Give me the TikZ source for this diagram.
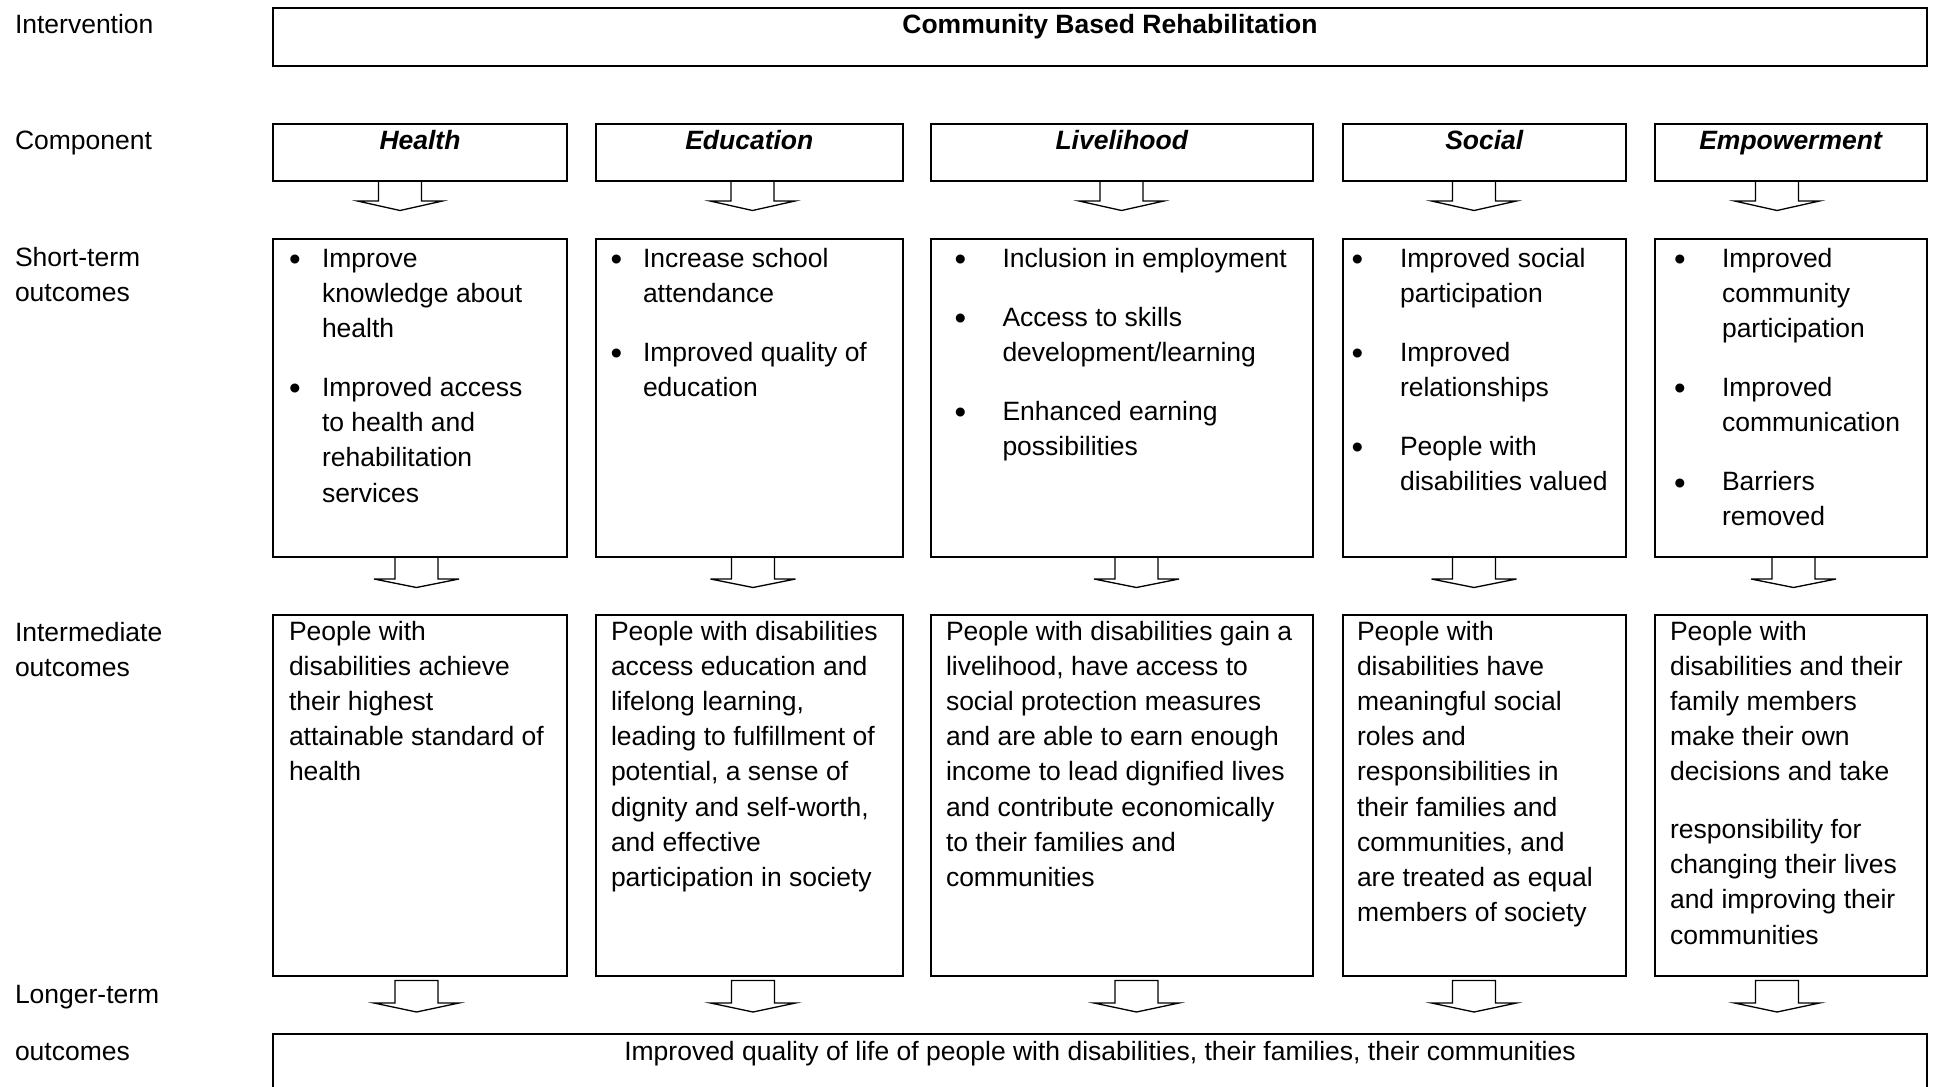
\documentclass[tikz,border=0pt]{standalone}
\usepackage{fontspec}
\setmainfont{Liberation Sans}
\newcommand\mystrut{\rule{0pt}{24pt}}
\newcommand\mybul{\raisebox{-3.5pt}{\scalebox{1.25}{•}}}
\newcommand\blkarrow[4]{\draw[blk] (#1-21.5,#2) -- (#1-21.5,#3) -- (#1-42.5,#3) -- (#1,#4) -- (#1+42.5,#3) -- (#1+21.5,#3) -- (#1+21.5,#2) -- cycle;}
\tikzset{
  box/.style={draw=black, line width=2pt, inner sep=0pt, outer sep=0pt, anchor=north west},
  txt/.style={inner sep=0pt, outer sep=0pt, anchor=north west, align=left, font=\fontsize{26.5pt}{35.2pt}\selectfont},
  ctxt/.style={txt, anchor=base},
  blk/.style={draw=black, line width=1.3pt, fill=white, line join=miter},
}
\begin{document}
\begin{tikzpicture}[x=1pt,y=-1pt]
\fill[white] (0,0) rectangle (1936,1087);
\clip (0,0) rectangle (1936,1087);

% block arrows
\blkarrow{400}{181}{201}{210.5}
\blkarrow{752.5}{181}{201}{210.5}
\blkarrow{1121.5}{181}{201}{210.5}
\blkarrow{1474}{181}{201}{210.5}
\blkarrow{1777}{181}{201}{210.5}
\blkarrow{416.5}{557}{579}{587.5}
\blkarrow{753}{557}{579}{587.5}
\blkarrow{1136.5}{557}{579}{587.5}
\blkarrow{1474}{557}{579}{587.5}
\blkarrow{1793.5}{557}{579}{587.5}
\blkarrow{416.5}{980.5}{1003}{1012}
\blkarrow{753}{980.5}{1003}{1012}
\blkarrow{1136.5}{980.5}{1003}{1012}
\blkarrow{1474}{980.5}{1003}{1012}
\blkarrow{1777}{980.5}{1003}{1012}

% boxes
\node[box, minimum width=1654pt, minimum height=58.5pt] (int) at (273,7.5) {};
\node[box, minimum width=294pt, minimum height=57pt] (ch) at (273,124) {};
\node[box, minimum width=307.5pt, minimum height=57pt] (ce) at (595.5,124) {};
\node[box, minimum width=382pt, minimum height=57pt] (cl) at (931,124) {};
\node[box, minimum width=283pt, minimum height=57pt] (cs) at (1343,124) {};
\node[box, minimum width=272pt, minimum height=57pt] (cm) at (1655,124) {};
\node[box, minimum width=294pt, minimum height=318.5pt] (sh) at (273,238.5) {};
\node[box, minimum width=307.5pt, minimum height=318.5pt] (se) at (595.5,238.5) {};
\node[box, minimum width=382pt, minimum height=318.5pt] (sl) at (931,238.5) {};
\node[box, minimum width=283pt, minimum height=318.5pt] (ss) at (1343,238.5) {};
\node[box, minimum width=272pt, minimum height=318.5pt] (sm) at (1655,238.5) {};
\node[box, minimum width=294pt, minimum height=361pt] (ih) at (273,614.5) {};
\node[box, minimum width=307.5pt, minimum height=361pt] (ie) at (595.5,614.5) {};
\node[box, minimum width=382pt, minimum height=361pt] (il) at (931,614.5) {};
\node[box, minimum width=283pt, minimum height=361pt] (is) at (1343,614.5) {};
\node[box, minimum width=272pt, minimum height=361pt] (im) at (1655,614.5) {};
\node[box, minimum width=1654pt, minimum height=90pt] (lt) at (273,1034) {};

% left labels
\node[txt] (l1) at (15,9.5) {\mystrut Intervention};
\node[txt] (l2) at (15,125.5) {\mystrut Component};
\node[txt] (l3) at (15,242.5) {\mystrut Short-term\\outcomes};
\node[txt] (l4) at (15,617) {\mystrut Intermediate\\outcomes};
\node[txt] (l5) at (15,979) {\mystrut Longer-term};
\node[txt] (l6) at (15,1036.5) {\mystrut outcomes};

% headings
\node[ctxt] (tint) at (1110,33.5) {\textbf{Community Based Rehabilitation}};
\node[ctxt] (th) at (420,149.5) {\textbf{\textit{Health}}};
\node[ctxt] (te) at (749.3,149.5) {\textbf{\textit{Education}}};
\node[ctxt] (tl) at (1122,149.5) {\textbf{\textit{Livelihood}}};
\node[ctxt] (ts) at (1484.5,149.5) {\textbf{\textit{Social}}};
\node[ctxt] (tm) at (1791,149.5) {\textbf{\textit{Empowerment}}};

% short-term: health
\node[txt] (shb1) at (289,243) {\mystrut\mybul};
\node[txt] (sht1) at (322,243) {\mystrut Improve\\knowledge about\\health};
\node[txt] (shb2) at (289,372.4) {\mystrut\mybul};
\node[txt] (sht2) at (322,372.4) {\mystrut Improved access\\to health and\\rehabilitation\\services};
% education
\node[txt] (seb1) at (610.5,243) {\mystrut\mybul};
\node[txt] (set1) at (643,243) {\mystrut Increase school\\attendance};
\node[txt] (seb2) at (610.5,337.2) {\mystrut\mybul};
\node[txt] (set2) at (643,337.2) {\mystrut Improved quality of\\education};
% livelihood
\node[txt] (slb1) at (954.5,243) {\mystrut\mybul};
\node[txt] (slt1) at (1002.5,243) {\mystrut Inclusion in employment};
\node[txt] (slb2) at (954.5,302) {\mystrut\mybul};
\node[txt] (slt2) at (1002.5,302) {\mystrut Access to skills\\development/learning};
\node[txt] (slb3) at (954.5,396) {\mystrut\mybul};
\node[txt] (slt3) at (1002.5,396) {\mystrut Enhanced earning\\possibilities};
% social
\node[txt] (ssb1) at (1351.5,243) {\mystrut\mybul};
\node[txt] (sst1) at (1400,243) {\mystrut Improved social\\participation};
\node[txt] (ssb2) at (1351.5,337.2) {\mystrut\mybul};
\node[txt] (sst2) at (1400,337.2) {\mystrut Improved\\relationships};
\node[txt] (ssb3) at (1351.5,431.4) {\mystrut\mybul};
\node[txt] (sst3) at (1400,431.4) {\mystrut People with\\disabilities valued};
% empowerment
\node[txt] (smb1) at (1674,243) {\mystrut\mybul};
\node[txt] (smt1) at (1722,243) {\mystrut Improved\\community\\participation};
\node[txt] (smb2) at (1674,372.4) {\mystrut\mybul};
\node[txt] (smt2) at (1722,372.4) {\mystrut Improved\\communication};
\node[txt] (smb3) at (1674,466.6) {\mystrut\mybul};
\node[txt] (smt3) at (1722,466.6) {\mystrut Barriers\\removed};

% intermediate
\node[txt] (iht) at (289,616) {\mystrut People with\\disabilities achieve\\their highest\\attainable standard of\\health};
\node[txt] (iet) at (611,616) {\mystrut People with disabilities\\access education and\\lifelong learning,\\leading to fulfillment of\\potential, a sense of\\dignity and self-worth,\\and effective\\participation in society};
\node[txt] (ilt) at (946,616) {\mystrut People with disabilities gain a\\livelihood, have access to\\social protection measures\\and are able to earn enough\\income to lead dignified lives\\and contribute economically\\to their families and\\communities};
\node[txt] (ist) at (1357,616) {\mystrut People with\\disabilities have\\meaningful social\\roles and\\responsibilities in\\their families and\\communities, and\\are treated as equal\\members of society};
\node[txt] (imt1) at (1670,616) {\mystrut People with\\disabilities and their\\family members\\make their own\\decisions and take};
\node[txt] (imt2) at (1670,814.5) {\mystrut responsibility for\\changing their lives\\and improving their\\communities};

% longer-term
\node[ctxt] (ltt) at (1100,1060.5) {Improved quality of life of people with disabilities, their families, their communities};
\end{tikzpicture}
\end{document}
